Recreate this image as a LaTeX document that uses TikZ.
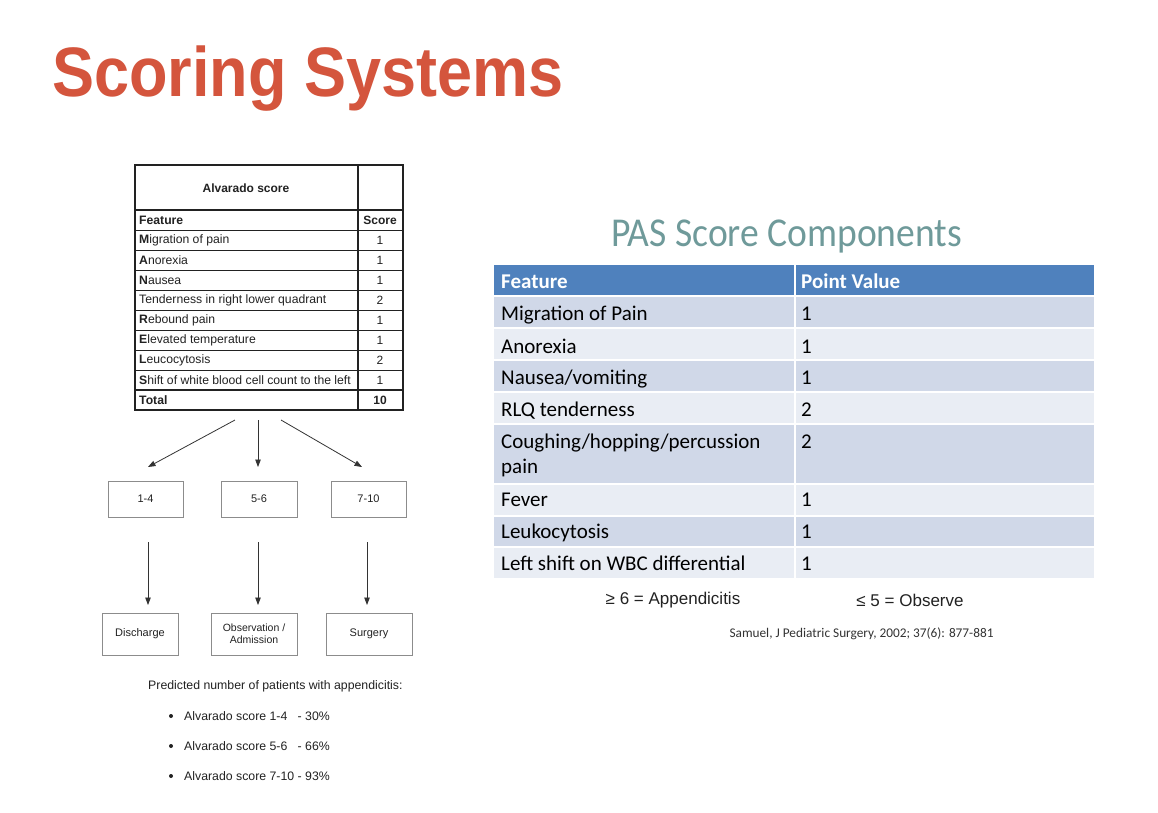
\documentclass[tikz,border=0pt]{standalone}
\usepackage{fontspec}
\usepackage{graphicx}
\setmainfont{Liberation Sans}
\newfontfamily\calib{Carlito}
\usetikzlibrary{arrows.meta}
\definecolor{titlered}{HTML}{D4553D}
\definecolor{pasteal}{HTML}{6F9A9A}
\definecolor{hdrblue}{HTML}{4F81BD}
\definecolor{rowdark}{HTML}{D0D8E8}
\definecolor{rowlight}{HTML}{E9EDF4}
\definecolor{inkgray}{HTML}{222222}
\begin{document}
\begin{tikzpicture}[x=1pt,y=-1pt,
  atext/.style={anchor=west, inner sep=0, font=\fontsize{12.2}{14}\selectfont, text=inkgray},
  ascore/.style={inner sep=0, font=\fontsize{12}{14}\selectfont, text=inkgray},
  arr/.style={-{Triangle[length=7.5pt,width=5.5pt]}, line width=0.8pt, draw=black!80},
  flowbox/.style={draw=black!45, line width=1pt, minimum width=75pt, minimum height=36pt, inner sep=0, font=\fontsize{11}{13}\selectfont, text=inkgray, align=center},
  pasf/.style={anchor=base west, inner sep=0, font=\calib\fontsize{21}{25}\selectfont, text=black},
  pash/.style={anchor=base west, inner sep=0, font=\calib\bfseries\fontsize{21}{25}\selectfont, text=white},
  ltext/.style={anchor=west, inner sep=0, font=\fontsize{12.3}{14}\selectfont, text=inkgray}
]
\useasboundingbox (0,0) rectangle (1158,812);
\fill[white] (0,0) rectangle (1158,812);

% Title
\node[anchor=base west, inner sep=0, text=titlered, font=\fontsize{70}{80}\selectfont\bfseries] (title) at (52,96) {\scalebox{0.9}[1]{Scoring Systems}};

% ---------------- Alvarado table ----------------
\draw[inkgray, line width=1.3pt] (135,165) rectangle (403,410);
\draw[inkgray, line width=1.1pt] (358,165) -- (358,410);
\draw[inkgray, line width=1.1pt] (135,210) -- (403,210);
\foreach \yy in {230,250,270,290,310,330,350,370}
  \draw[inkgray, line width=0.7pt] (135,\yy) -- (403,\yy);
\draw[inkgray, line width=1.1pt] (135,390) -- (403,390);

\node[ascore, font=\fontsize{12}{14}\selectfont\bfseries] (avtitle) at (246,188) {Alvarado score};
\foreach \t/\s [count=\i] in {
  {\textbf{Feature}}/{\textbf{Score}},
  {\textbf{M}igration of pain}/1,
  {\textbf{A}norexia}/1,
  {\textbf{N}ausea}/1,
  {Tenderness in right lower quadrant}/2,
  {\textbf{R}ebound pain}/1,
  {\textbf{E}levated temperature}/1,
  {\textbf{L}eucocytosis}/2,
  {\textbf{S}hift of white blood cell count to the left}/1,
  {\textbf{Total}}/{\textbf{10}}}
{
  \node[atext] (av\i) at (139,{200+20*\i}) {\t};
  \node[ascore] (avs\i) at (380,{200+20*\i}) {\s};
}

% ---------------- Flowchart ----------------
\coordinate (s1) at (235,420); \coordinate (e1) at (148,467);
\coordinate (s2) at (258,420); \coordinate (e2) at (258,467);
\coordinate (s3) at (281,420); \coordinate (e3) at (362,467);
\draw[arr] (s1) -- (e1);
\draw[arr] (s2) -- (e2);
\draw[arr] (s3) -- (e3);

\node[flowbox] (r14) at (145.5,499) {1-4};
\node[flowbox, minimum width=76pt] (r56) at (259,499) {5-6};
\node[flowbox] (r710) at (368.5,499) {7-10};

\coordinate (d1s) at (148,542); \coordinate (d1e) at (148,605);
\coordinate (d2s) at (258,542); \coordinate (d2e) at (258,605);
\coordinate (d3s) at (367,542); \coordinate (d3e) at (367,605);
\draw[arr] (d1s) -- (d1e);
\draw[arr] (d2s) -- (d2e);
\draw[arr] (d3s) -- (d3e);

\node[flowbox, minimum width=76pt, minimum height=42pt] (dis) at (140,634) {Discharge};
\node[flowbox, minimum width=86pt, minimum height=42pt, font=\fontsize{10.5}{12}\selectfont] (obs) at (254,634) {Observation /\\Admission};
\node[flowbox, minimum width=86pt, minimum height=42pt] (sur) at (369,634) {Surgery};

% Predicted text
\node[ltext] (pred) at (148,686) {Predicted number of patients with appendicitis:};
\foreach \yy/\t [count=\i] in {716/{Alvarado score 1-4\ \ \ - 30\%}, 746/{Alvarado score 5-6\ \ \ - 66\%}, 776/{Alvarado score 7-10 - 93\%}}
{
  \node[circle, fill=inkgray, inner sep=0, minimum size=4pt] (bul\i) at (171,\yy) {};
  \node[ltext] (bt\i) at (184,\yy) {\t};
}

% ---------------- PAS ----------------
\node[anchor=base, inner sep=0, text=pasteal, font=\calib\fontsize{41}{48}\selectfont] (pastitle) at (786.5,246) {\scalebox{0.916}[1]{PAS Score Components}};

\fill[hdrblue] (494,265) rectangle (1094,296);
\foreach \a/\b/\c in {296/328/rowdark, 328/360/rowlight, 360/392/rowdark, 392/424/rowlight, 424/484/rowdark, 484/516/rowlight, 516/547/rowdark, 547/578/rowlight}
{
  \fill[\c] (494,\a) rectangle (1094,\b);
  \draw[white, line width=2pt] (494,\a) -- (1094,\a);
}
\draw[white, line width=2pt] (795,265) -- (795,578);

\node[pash] (ph1) at (501,288) {Feature};
\node[pash] (ph2) at (801,288) {Point Value};
\foreach \yy/\t/\v [count=\i] in {
  320/{Migration of Pain}/1,
  353/{Anorexia}/1,
  384/{Nausea/vomiting}/1,
  416/{RLQ tenderness}/2,
  448/{Coughing/hopping/percussion}/2,
  506/{Fever}/1,
  538/{Leukocytosis}/1,
  570/{Left shift on WBC differential}/1}
{
  \node[pasf] (pf\i) at (501,\yy) {\t};
  \node[pasf] (pv\i) at (801,\yy) {\v};
}
\node[pasf] (pf5b) at (501,473) {pain};

\node[inner sep=0, font=\fontsize{17}{20}\selectfont, text=inkgray] (appx) at (673,600) {≥ 6 = Appendicitis};
\node[inner sep=0, font=\fontsize{17}{20}\selectfont, text=inkgray] (obsv) at (910,600) {≤ 5 = Observe};
\node[inner sep=0, font=\calib\fontsize{13.3}{16}\selectfont, text=black!80] (cite) at (861.5,634) {Samuel, J Pediatric Surgery, 2002; 37(6): 877-881};
\end{tikzpicture}
\end{document}
